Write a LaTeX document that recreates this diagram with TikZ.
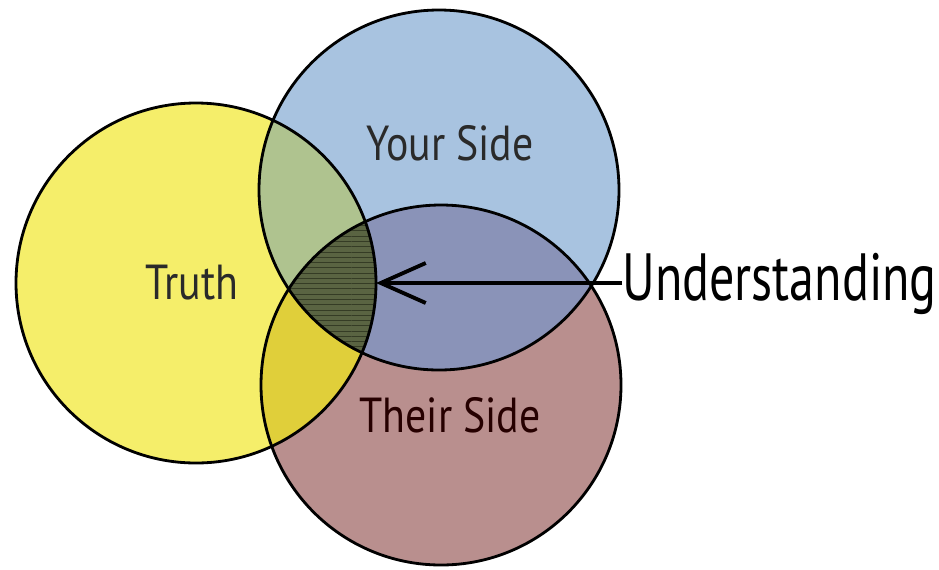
\documentclass[tikz,border=0pt]{standalone}
\usepackage{fontspec}
\usetikzlibrary{arrows.meta, patterns, positioning}
\newfontfamily\labelfont[FakeStretch=0.85]{PT Sans}
\newfontfamily\notefont[FakeStretch=0.75]{PT Sans}
\definecolor{truthfill}{HTML}{F5EE6A}
\definecolor{yourfill}{HTML}{A8C3E0}
\definecolor{theirfill}{HTML}{B98F8E}
\definecolor{truthyour}{HTML}{AFC38F}
\definecolor{truththeir}{HTML}{E0CF3A}
\definecolor{yourtheir}{HTML}{8A93B8}
\definecolor{allthree}{HTML}{5A6442}
\definecolor{hatch}{HTML}{353C25}
\definecolor{inkgray}{HTML}{2A2A2A}

\begin{document}
\begin{tikzpicture}[
    x=0.02cm, y=-0.02cm,
    ring/.style={draw=black, line width=1.6pt},
    tag/.style={font=\labelfont\fontsize{28}{30}\selectfont, text=inkgray, inner sep=0pt},
    bigtag/.style={font=\notefont\fontsize{38}{40}\selectfont, text=black, inner sep=0pt},
    pointer/.style={draw=black, line width=2.2pt, -{Straight Barb[length=9mm, width=8mm, line width=2.2pt]}}
]

% Canvas
\useasboundingbox (0,0) rectangle (939,569);
\fill[white] (0,0) rectangle (939,569);

% Circle centres
\coordinate (truthc) at (196,283);
\coordinate (yourc) at (439,190);
\coordinate (theirc) at (441,385);

% Plain fills
\fill[truthfill] (truthc) circle [radius=180];
\fill[yourfill] (yourc) circle [radius=180];
\fill[theirfill] (theirc) circle [radius=180];

% Overlaps
\begin{scope}
  \clip (truthc) circle [radius=180];
  \fill[truthyour] (yourc) circle [radius=180];
  \fill[truththeir] (theirc) circle [radius=180];
\end{scope}
\begin{scope}
  \clip (yourc) circle [radius=180];
  \fill[yourtheir] (theirc) circle [radius=180];
\end{scope}
\begin{scope}
  \clip (truthc) circle [radius=180];
  \clip (yourc) circle [radius=180];
  \fill[allthree] (theirc) circle [radius=180];
  \fill[pattern=horizontal lines, pattern color=hatch] (theirc) circle [radius=180];
\end{scope}

% Outlines
\draw[ring] (truthc) circle [radius=180];
\draw[ring] (yourc) circle [radius=180];
\draw[ring] (theirc) circle [radius=180];

% Labels
\node[tag] (truth) at (192,283) {Truth};
\node[tag] (yourside) at (450,143) {Your Side};
\node[tag, text=black!85!red] (theirside) at (450,415) {Their Side};
\node[bigtag, anchor=base west] (understanding) at (622,300) {Understanding};

% Arrow into the middle
\coordinate (head) at (376,283);
\draw[pointer] (understanding.west |- head) -- (head);

\end{tikzpicture}
\end{document}
